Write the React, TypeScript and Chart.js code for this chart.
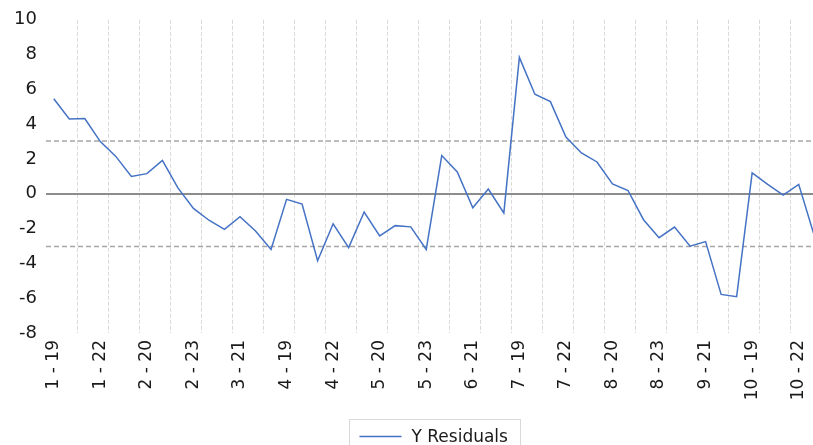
import React, { useEffect, useRef } from 'react';
import { Chart, registerables } from 'chart.js';

Chart.register(...registerables);

// ---- data ----
const CATEGORIES = [
  '1 - 19', '1 - 20', '1 - 21', '1 - 22', '1 - 23',
  '2 - 19', '2 - 20', '2 - 21', '2 - 22', '2 - 23',
  '3 - 19', '3 - 20', '3 - 21', '3 - 22', '3 - 23',
  '4 - 19', '4 - 20', '4 - 21', '4 - 22', '4 - 23',
  '5 - 19', '5 - 20', '5 - 21', '5 - 22', '5 - 23',
  '6 - 19', '6 - 20', '6 - 21', '6 - 22', '6 - 23',
  '7 - 19', '7 - 20', '7 - 21', '7 - 22', '7 - 23',
  '8 - 19', '8 - 20', '8 - 21', '8 - 22', '8 - 23',
  '9 - 19', '9 - 20', '9 - 21', '9 - 22', '9 - 23',
  '10 - 19', '10 - 20', '10 - 21', '10 - 22', '10 - 23',
];

const RESIDUALS = [
  5.46, 4.3, 4.33, 3.0, 2.15,
  1.0, 1.16, 1.92, 0.34, -0.84,
  -1.52, -2.04, -1.32, -2.14, -3.2,
  -0.32, -0.59, -3.85, -1.72, -3.09,
  -1.05, -2.42, -1.83, -1.9, -3.2,
  2.2, 1.26, -0.8, 0.27, -1.1,
  7.84, 5.72, 5.3, 3.26, 2.35,
  1.83, 0.57, 0.19, -1.49, -2.52,
  -1.91, -3.01, -2.75, -5.78, -5.91,
  1.2, 0.54, -0.07, 0.54, -2.4,
];

const SERIES_LABEL = 'Y Residuals';
const Y_MIN = -8;
const Y_MAX = 10;
const Y_STEP = 2;
const UPPER_LIMIT = 3.03;
const LOWER_LIMIT = -3.03;
const LABEL_EVERY = 3;
const GRID_EVERY = 2;

const FONT_FAMILY = '"DejaVu Sans", sans-serif';
const TEXT_COLOR = '#1a1a1a';
const LINE_COLOR = '#4472C4';

const limitLinesPlugin = {
  id: 'limitLines',
  beforeDatasetsDraw(chart: any) {
    const { ctx, chartArea, scales } = chart;
    const y = scales.y;
    ctx.save();
    ctx.strokeStyle = '#a6a6a6';
    ctx.lineWidth = 1.5;
    ctx.setLineDash([5, 3]);
    [UPPER_LIMIT, LOWER_LIMIT].forEach((v) => {
      const py = y.getPixelForValue(v);
      ctx.beginPath();
      ctx.moveTo(chartArea.left, py);
      ctx.lineTo(chartArea.right, py);
      ctx.stroke();
    });
    ctx.restore();
  },
};

const boxedLegendPlugin = {
  id: 'boxedLegend',
  afterDraw(chart: any) {
    const { ctx, chartArea } = chart;
    const ds = chart.data.datasets[0];
    const cx = (chartArea.left + chartArea.right) / 2;
    const boxW = 171;
    const boxH = 40;
    const boxX = Math.round(cx - boxW / 2) + 0.5;
    const boxY = 419.5;
    ctx.save();
    ctx.strokeStyle = '#d9d9d9';
    ctx.lineWidth = 1;
    ctx.strokeRect(boxX, boxY, boxW, boxH);
    const lineY = boxY + 17;
    ctx.strokeStyle = ds.borderColor;
    ctx.lineWidth = 1.5;
    ctx.beginPath();
    ctx.moveTo(boxX + 10, lineY);
    ctx.lineTo(boxX + 52, lineY);
    ctx.stroke();
    ctx.fillStyle = TEXT_COLOR;
    ctx.font = `17px ${FONT_FAMILY}`;
    ctx.textBaseline = 'alphabetic';
    ctx.textAlign = 'left';
    ctx.fillText(ds.label, boxX + 62, boxY + 22);
    ctx.restore();
  },
};

export default function App() {
  const canvasRef = useRef<HTMLCanvasElement | null>(null);

  useEffect(() => {
    const canvas = canvasRef.current;
    if (!canvas) return;
    const chart = new Chart(canvas, {
      type: 'line',
      data: {
        labels: CATEGORIES,
        datasets: [
          {
            label: SERIES_LABEL,
            data: RESIDUALS,
            borderColor: LINE_COLOR,
            backgroundColor: LINE_COLOR,
            borderWidth: 1.5,
            pointRadius: 0,
            pointHoverRadius: 0,
            tension: 0,
            fill: false,
          },
        ],
      },
      options: {
        responsive: false,
        animation: false,
        devicePixelRatio: 1,
        layout: { padding: { top: 17.5, right: 23, left: 0, bottom: 0 } },
        plugins: {
          legend: { display: false },
          title: { display: false },
          tooltip: { enabled: false },
        },
        scales: {
          x: {
            type: 'category',
            offset: true,
            border: { display: false, dash: [4, 2] },
            grid: {
              offset: true,
              drawTicks: false,
              lineWidth: 1,
              color: (ctx: any) =>
                ctx.index > 0 && ctx.index % GRID_EVERY === 0 ? '#d9d9d9' : 'rgba(0,0,0,0)',
            },
            ticks: {
              autoSkip: false,
              maxRotation: 90,
              minRotation: 90,
              padding: 7,
              color: TEXT_COLOR,
              font: { family: FONT_FAMILY, size: 17 },
              callback: (_v: any, i: number) => (i % LABEL_EVERY === 0 ? CATEGORIES[i] : ''),
            },
            afterFit: (scale: any) => {
              scale.height = 112;
            },
          },
          y: {
            min: Y_MIN,
            max: Y_MAX,
            border: { display: false },
            grid: {
              drawTicks: false,
              color: (ctx: any) => (ctx.tick && ctx.tick.value === 0 ? '#8c8c8c' : 'rgba(0,0,0,0)'),
              lineWidth: (ctx: any) => (ctx.tick && ctx.tick.value === 0 ? 2 : 0),
            },
            ticks: {
              stepSize: Y_STEP,
              padding: 9,
              color: TEXT_COLOR,
              font: { family: FONT_FAMILY, size: 18 },
            },
            afterFit: (scale: any) => {
              scale.width = 46;
            },
          },
        },
      },
      plugins: [limitLinesPlugin, boxedLegendPlugin],
    });
    return () => chart.destroy();
  }, []);

  return (
    <div
      style={{
        position: 'absolute',
        left: 0,
        top: 0,
        width: 813,
        height: 445,
        overflow: 'hidden',
        background: '#ffffff',
      }}
    >
      <canvas ref={canvasRef} width={845} height={445} style={{ display: 'block' }} />
    </div>
  );
}
